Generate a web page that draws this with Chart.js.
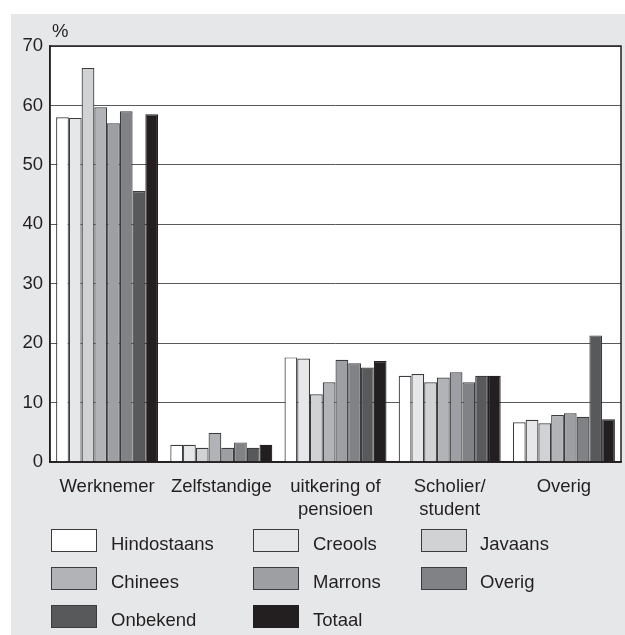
<!DOCTYPE html>
<html>
<head>
<meta charset="utf-8">
<script src="https://cdn.jsdelivr.net/npm/chart.js@4"></script>
<style>
  body { margin: 0; background: #fff; font-family: "Liberation Sans", Arial, sans-serif; }
  #panel { position: absolute; left: 11px; top: 14px; width: 614px; height: 621px; background: #e6e7e8; }
  #wrap { position: absolute; left: 0; top: 0; width: 625px; height: 540px; }
  #legend { position: absolute; left: 0; top: 0; width: 625px; height: 635px; pointer-events: none; }
  .box { position: absolute; width: 46px; height: 23px; box-sizing: border-box; border: 1px solid #3c3c3e; }
  .lbl { position: absolute; font-size: 18.5px; color: #231f20; line-height: 22px; }
</style>
</head>
<body>
<div id="panel"></div>
<div id="wrap"><canvas id="myChart"></canvas></div>
<div id="legend"></div>
<script>
const categories = ["Werknemer", "Zelfstandige", ["uitkering of", "pensioen"], ["Scholier/", "student"], "Overig"];
const groupNames = ["Hindostaans", "Creools", "Javaans", "Chinees", "Marrons", "Overig", "Onbekend", "Totaal"];
const groupColors = ["#ffffff", "#e6e7e8", "#d1d2d4", "#b1b3b6", "#9d9fa2", "#808285", "#58595b", "#231f20"];

const hindostaans = [58.0, 2.9, 17.6, 14.5, 6.7];
const creools     = [57.9, 2.9, 17.4, 14.8, 7.1];
const javaans     = [66.3, 2.4, 11.4, 13.4, 6.5];
const chinees     = [59.7, 4.9, 13.4, 14.2, 7.9];
const marrons     = [57.0, 2.4, 17.2, 15.1, 8.2];
const overig      = [59.0, 3.3, 16.6, 13.4, 7.6];
const onbekend    = [45.6, 2.4, 15.9, 14.5, 21.3];
const totaal      = [58.5, 2.9, 17.0, 14.5, 7.2];
const seriesValues = [hindostaans, creools, javaans, chinees, marrons, overig, onbekend, totaal];

const yTicks = [0, 10, 20, 30, 40, 50, 60, 70];

const textColor = "#231f20";
const fontFamily = "'Liberation Sans', Arial, sans-serif";
const fontSize = 18.5;

function buildLegend() {
  const target = document.querySelector("#legend");
  const cols = [{ box: 51, text: 111 }, { box: 253, text: 313 }, { box: 421, text: 480 }];
  const rows = [529, 567, 605];
  groupNames.forEach((name, i) => {
    const c = cols[i % 3];
    const r = rows[Math.floor(i / 3)];
    const borderCol = i === 7 ? groupColors[i] : "#3c3c3e";
    target.innerHTML += `<div class="box" style="left:${c.box}px;top:${r}px;background:${groupColors[i]};border-color:${borderCol}"></div>`;
    target.innerHTML += `<div class="lbl" style="left:${c.text}px;top:${r + 4}px">${name}</div>`;
  });
}

const framePlugin = {
  id: "frame",
  beforeDraw(chart) {
    const a = chart.chartArea;
    const ctx = chart.ctx;
    ctx.save();
    ctx.fillStyle = "#ffffff";
    ctx.fillRect(a.left, a.top, a.right - a.left, a.bottom - a.top);
    ctx.restore();
  },
  afterDatasetsDraw(chart) {
    const a = chart.chartArea;
    const ctx = chart.ctx;
    ctx.save();
    ctx.strokeStyle = textColor;
    ctx.lineWidth = 1.5;
    ctx.strokeRect(a.left, a.top, a.right - a.left, a.bottom - a.top);
    ctx.fillStyle = textColor;
    ctx.font = fontSize + "px " + fontFamily;
    ctx.textBaseline = "alphabetic";
    ctx.fillText("%", a.left + 2, a.top - 9);
    ctx.restore();
  }
};

function initChart(target) {
  const data = {
    labels: categories,
    datasets: seriesValues.map((vals, i) => ({
      label: groupNames[i],
      data: vals,
      backgroundColor: groupColors[i],
      borderColor: i === 7 ? groupColors[i] : "#3c3c3e",
      borderWidth: 1.2,
      borderSkipped: "bottom",
      barPercentage: 1,
      categoryPercentage: 0.893
    }))
  };

  const config = {
    type: "bar",
    data: data,
    options: {
      responsive: false,
      animation: false,
      layout: { padding: { top: 46, right: 4, left: 0, bottom: 0 } },
      plugins: { legend: { display: false }, tooltip: { enabled: false } },
      scales: {
        x: {
          grid: { display: false },
          border: { display: true, color: textColor, width: 1.5 },
          ticks: { color: textColor, font: { family: fontFamily, size: fontSize, lineHeight: 1.25 }, padding: 5, maxRotation: 0, autoSkip: false },
          afterFit: (s) => { s.height = 78; }
        },
        y: {
          min: 0,
          max: 70,
          afterBuildTicks: (s) => { s.ticks = yTicks.map((v) => ({ value: v })); },
          grid: { color: "#58595b", lineWidth: 1, drawTicks: false },
          border: { display: true, color: textColor, width: 1.5 },
          ticks: { color: textColor, font: { family: fontFamily, size: fontSize }, padding: 7 },
          afterFit: (s) => { s.width = 50; }
        }
      }
    },
    plugins: [framePlugin]
  };
  return new Chart(target, config);
}

document.addEventListener("DOMContentLoaded", () => {
  const canvas = document.querySelector("#myChart");
  canvas.width = 625;
  canvas.height = 540;
  initChart(canvas);
  buildLegend();
});
</script>
</body>
</html>
